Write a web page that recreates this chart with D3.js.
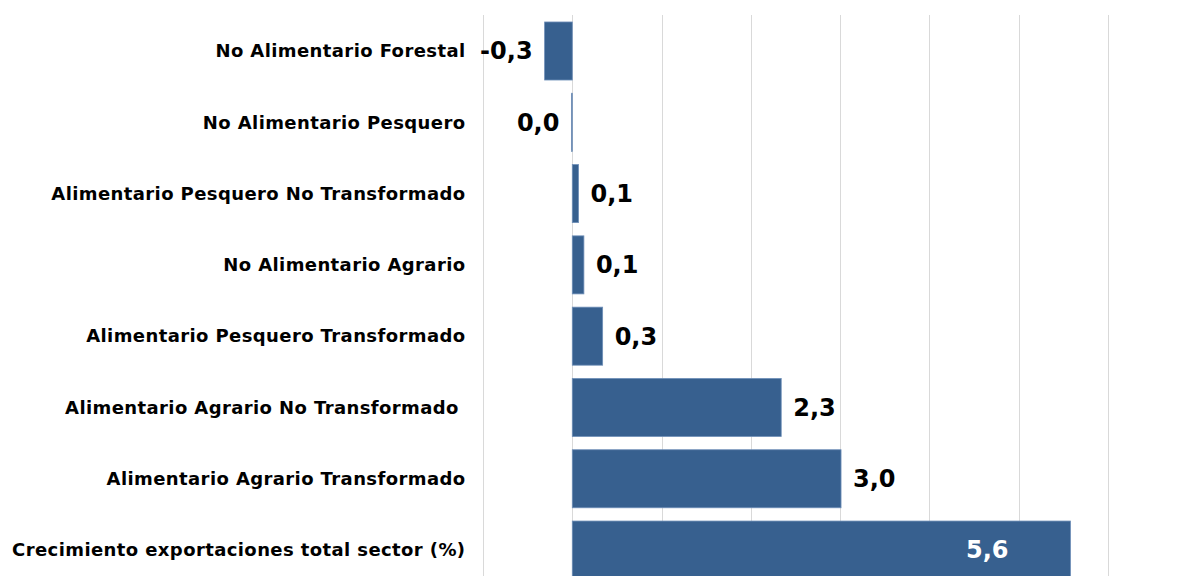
<!DOCTYPE html>
<html>
<head>
<meta charset="utf-8">
<script src="https://cdn.jsdelivr.net/npm/d3@7"></script>
<style>
  body { margin: 0; background: #fff; }
  svg { display: block; }
  text { font-family: "DejaVu Sans", Verdana, sans-serif; font-weight: bold; }
</style>
</head>
<body>
<script>
const categories = [
  'No Alimentario Forestal',
  'No Alimentario Pesquero',
  'Alimentario Pesquero No Transformado',
  'No Alimentario Agrario',
  'Alimentario Pesquero Transformado',
  'Alimentario Agrario No Transformado ',
  'Alimentario Agrario Transformado',
  'Crecimiento exportaciones total sector (%)'
];
const values = [-0.31, -0.01, 0.07, 0.13, 0.34, 2.34, 3.01, 5.58];
const ticks = [-1, 0, 1, 2, 3, 4, 5, 6];

const width = 1189;
const height = 576;

const svg = d3.select('body')
  .append('svg')
  .attr('width', width)
  .attr('height', height);

const x = d3.scaleLinear()
  .domain([-1, 6])
  .range([483, 1108]);

const y = d3.scaleBand()
  .domain(categories)
  .range([15.35, 585.7])
  .paddingInner(0.186)
  .paddingOuter(0.093);

// gridlines
svg.append('g')
  .selectAll('line')
  .data(ticks)
  .enter().append('line')
  .attr('x1', d => Math.round(x(d)) + 0.5)
  .attr('x2', d => Math.round(x(d)) + 0.5)
  .attr('y1', 15)
  .attr('y2', height)
  .attr('stroke', '#d9d9d9')
  .attr('stroke-width', 1);

// bars
svg.append('g')
  .selectAll('rect')
  .data(values)
  .enter().append('rect')
  .attr('x', d => Math.min(x(0), x(d)))
  .attr('y', (d, i) => y(categories[i]))
  .attr('width', d => Math.abs(x(d) - x(0)))
  .attr('height', y.bandwidth())
  .attr('fill', '#37608f')
  .attr('stroke', '#6f8fb8')
  .attr('stroke-width', 0.8);

// category labels
svg.append('g')
  .selectAll('text')
  .data(categories)
  .enter().append('text')
  .attr('x', 465.5)
  .attr('y', d => y(d) + y.bandwidth() / 2)
  .attr('dy', '0.35em')
  .attr('text-anchor', 'end')
  .style('white-space', 'pre')
  .style('font-size', '18px')
  .style('letter-spacing', '0.4px')
  .attr('fill', '#000')
  .text(d => d);

// value labels
const fmt = v => d3.format('.1f')(v).replace('.', ',').replace('−', '-');
const last = values.length - 1;
svg.append('g')
  .selectAll('text')
  .data(values)
  .enter().append('text')
  .attr('x', (d, i) => {
    if (i === last) return x(d) - 62;
    return d < 0 ? x(d) - 12 : x(d) + 12;
  })
  .attr('y', (d, i) => y(categories[i]) + y.bandwidth() / 2)
  .attr('dy', '0.35em')
  .attr('text-anchor', (d, i) => (i === last || d < 0) ? 'end' : 'start')
  .style('font-size', '24px')
  .attr('fill', (d, i) => i === last ? '#fff' : '#000')
  .text(d => fmt(d));
</script>
</body>
</html>
